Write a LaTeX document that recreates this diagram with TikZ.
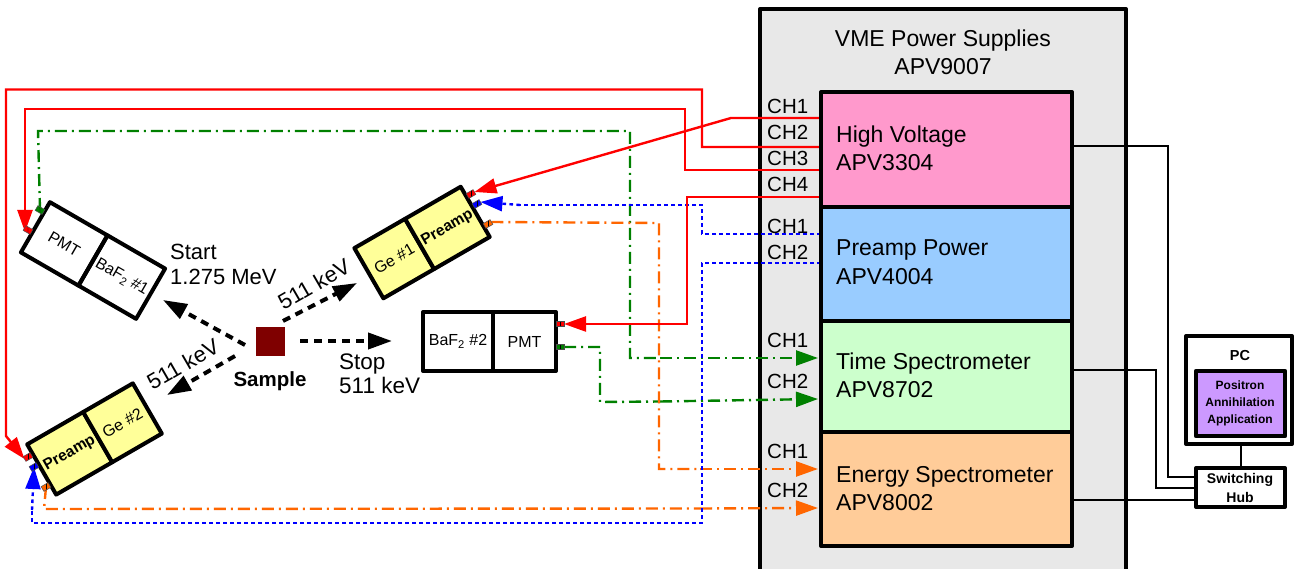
\documentclass[tikz,border=0pt]{standalone}
\usepackage{fontspec}
\setmainfont{Liberation Sans}
\usetikzlibrary{arrows.meta}
\pgfdeclarelayer{front}
\pgfsetlayers{main,front}
\tikzset{
  lab/.style={font=\fontsize{23}{25}\selectfont,inner sep=0pt,align=left},
  clab/.style={font=\fontsize{20.5}{24}\selectfont,inner sep=0pt,anchor=west},
  outerbox/.style={draw=black,line width=4pt,fill=#1,inner sep=0pt,outer sep=0pt,line join=round},
  cell/.style={draw=black,line width=4pt,inner sep=0pt,outer sep=0pt,line join=round,font=\fontsize{16}{19}\selectfont},
  stub/.style={draw=black!70,line width=.5pt,fill=#1,minimum width=8pt,minimum height=5.5pt,inner sep=0pt,outer sep=0pt,
     path picture={\draw[black,line width=.4pt] (path picture bounding box.north) -- (path picture bounding box.south);}},
  wiretip/.style={-{Triangle[length=22pt,width=15pt]}},
  hvwire/.style={draw=wred,line width=2.4pt,line join=miter,wiretip},
  pwrwire/.style={draw=wblue,line width=2.4pt,dash pattern=on 3.6pt off 3.4pt},
  sigwire/.style={draw=#1,line width=2.4pt,dash pattern=on 12pt off 5pt on 2pt off 5pt},
  thin wire/.style={draw=black,line width=2pt},
  gamma/.style={draw=black,line width=4pt,dash pattern=on 8pt off 6pt,-{Triangle[length=24pt,width=16pt]}},
}
\definecolor{wred}{HTML}{FF0000}
\definecolor{wblue}{HTML}{0000FF}
\definecolor{wgreen}{HTML}{008000}
\definecolor{worange}{HTML}{FF6600}
\definecolor{mpink}{HTML}{FF99CC}
\definecolor{mblue}{HTML}{99CCFF}
\definecolor{mgreen}{HTML}{CCFFCC}
\definecolor{morange}{HTML}{FFCC99}
\definecolor{myellow}{HTML}{FFFF99}
\definecolor{mgray}{HTML}{E8E8E8}
\definecolor{mpurple}{HTML}{CC99FF}
\definecolor{mred}{HTML}{7F0000}
\begin{document}
\begin{tikzpicture}[x=1pt,y=-1pt]
\path[use as bounding box] (0,0) rectangle (1294,569);
\clip (0,0) rectangle (1294,569);
\fill[white] (0,0) rectangle (1294,569);

% VME crate
\node[outerbox=mgray,minimum width=366pt,minimum height=572pt,anchor=north west] (vme) at (760,9) {};
\node[lab,align=center,anchor=center] (vmet) at (943,52.5) {VME Power Supplies\\[3.5pt]APV9007};

% anchor points on the modules
\coordinate (hv1) at (821,118);
\coordinate (hv2) at (821,147);
\coordinate (hv3) at (821,170);
\coordinate (hv4) at (821,197);
\coordinate (pw1) at (821,234);
\coordinate (pw2) at (821,263);
\coordinate (ts1) at (818,358);
\coordinate (ts2) at (818,399);
\coordinate (es1) at (818,469);
\coordinate (es2) at (818,508);

% detector stubs, on the front layer
\begin{pgfonlayer}{front}
\path
  node[stub=wred,rotate=-30] (s1r) at (28,230) {}
  node[stub=wgreen,rotate=-30] (s1g) at (40,210) {}
  node[stub=wred,rotate=30] (s2r) at (471,194) {}
  node[stub=wblue,rotate=30] (s2b) at (477,204) {}
  node[stub=worange,rotate=30] (s2o) at (488,224) {}
  node[stub=wred] (s3r) at (560,324) {}
  node[stub=wgreen] (s3g) at (560,347) {}
  node[stub=wred,rotate=30] (s4r) at (28,457) {}
  node[stub=wblue,rotate=30] (s4b) at (34,467) {}
  node[stub=worange,rotate=30] (s4o) at (46,487) {};
\end{pgfonlayer}

% wires
\draw[sigwire=wgreen] (s1g.center) -- (38,131) -- (630,131) -- (630,358) -- (660,358);
\draw[sigwire=wgreen,wiretip] (660,358) -- (ts1);
\draw[sigwire=wgreen] (s3g.east) -- (600,347) -- (600,402) -- (660,401.5);
\draw[sigwire=wgreen,wiretip] (660,401.5) -- (ts2);
\draw[sigwire=worange] (s2o.east) -- (659,223) -- (659,469) -- (700,469);
\draw[sigwire=worange,wiretip] (700,469) -- (es1);
\draw[sigwire=worange] (s4o.center) -- (44,509) -- (700,508.5);
\draw[sigwire=worange,wiretip] (700,508.5) -- (es2);
\draw[pwrwire] (pw1) -- (702,234) -- (702,205) -- (520,205);
\draw[pwrwire,wiretip] (520,205) -- (s2b.east);
\draw[pwrwire] (pw2) -- (702,263) -- (702,523) -- (32,523) -- (32,510);
\draw[pwrwire,wiretip] (32,510) -- (s4b.center);
\draw[hvwire] (hv1) -- (731,118) -- (s2r.east);
\draw[hvwire] (hv2) -- (702,147) -- (702,89.5) -- (6,89.5) -- (6,436) -- (s4r.west);
\draw[hvwire] (hv3) -- (685,170) -- (685,109) -- (25,109) -- (25,232);
\draw[hvwire] (hv4) -- (687,197) -- (687,324) -- (s3r.east);

% modules
\node[outerbox=mpink,minimum width=251pt,minimum height=115pt,anchor=north west] (hv) at (821,92) {};
\node[outerbox=mblue,minimum width=251pt,minimum height=114pt,anchor=north west] (pw) at (821,207) {};
\node[outerbox=mgreen,minimum width=251pt,minimum height=111pt,anchor=north west] (ts) at (821,321) {};
\node[outerbox=morange,minimum width=251pt,minimum height=114pt,anchor=north west] (es) at (821,432) {};
\node[lab,anchor=west] (hvt) at (836,148.5) {High Voltage\\[3.5pt]APV3304};
\node[lab,anchor=west] (pwt) at (836,262) {Preamp Power\\[3.5pt]APV4004};
\node[lab,anchor=west] (tst) at (836,375.5) {Time Spectrometer\\[3.5pt]APV8702};
\node[lab,anchor=west] (est) at (836,488.5) {Energy Spectrometer\\[3.5pt]APV8002};

% channel labels
\node[clab] (c1) at (767,106) {CH1};
\node[clab] (c2) at (767,132) {CH2};
\node[clab] (c3) at (767,158) {CH3};
\node[clab] (c4) at (767,184) {CH4};
\node[clab] (c5) at (767,226) {CH1};
\node[clab] (c6) at (767,252) {CH2};
\node[clab] (c7) at (767,340) {CH1};
\node[clab] (c8) at (767,381) {CH2};
\node[clab] (c9) at (767,451) {CH1};
\node[clab] (c10) at (767,490) {CH2};

% PC and hub
\node[outerbox=white,minimum width=106pt,minimum height=108pt,anchor=north west] (pc) at (1186,336) {};
\node[font=\bfseries\fontsize{14.5}{17}\selectfont,inner sep=0pt] (pct) at (1240,356) {PC};
\node[outerbox=mpurple,minimum width=89pt,minimum height=65pt,anchor=north west,line width=4.5pt] (app) at (1196,371) {};
\node[font=\bfseries\fontsize{12}{17}\selectfont,inner sep=0pt,align=center] (appt) at (1240,403) {Positron\\Annihilation\\Application};
\node[outerbox=white,minimum width=89pt,minimum height=39pt,anchor=north west] (hub) at (1196,468) {};
\node[font=\bfseries\fontsize{14}{19}\selectfont,inner sep=0pt,align=center] (hubt) at (1240,487.5) {Switching\\Hub};
\draw[thin wire] (hub.north |- pc.south) -- (hub.north);
\draw[thin wire] (1072,146) -- (1168,146) -- (1168,477) -- (1196,477);
\draw[thin wire] (1072,370) -- (1156,370) -- (1156,488) -- (1196,488);
\draw[thin wire] (1072,500) -- (1196,500);

% detectors
\node[cell,rotate=-30,minimum width=66.5pt,minimum height=58pt] (pmt1) at (64.2,243.9) {PMT};
\node[cell,rotate=-30,minimum width=66.5pt,minimum height=58pt] (baf1) at (121.8,277.1) {BaF\textsubscript{2} \#1};
\node[cell,fill=myellow,rotate=30,minimum width=58.5pt,minimum height=58pt] (ge1) at (394.2,258.6) {Ge \#1};
\node[cell,fill=myellow,rotate=30,minimum width=64.2pt,minimum height=58pt,font=\bfseries\fontsize{15.5}{18}\selectfont] (pre1) at (447.4,227.9) {Preamp};
\node[cell,minimum width=70pt,minimum height=59pt] (baf2) at (458,341.5) {BaF\textsubscript{2} \#2};
\node[cell,minimum width=63pt,minimum height=59pt] (pmt2) at (524.5,341.5) {PMT};
\node[cell,fill=myellow,rotate=30,minimum width=64.7pt,minimum height=58pt,font=\bfseries\fontsize{15.5}{18}\selectfont] (pre2) at (69.7,453.3) {Preamp};
\node[cell,fill=myellow,rotate=30,minimum width=57.3pt,minimum height=58pt] (ge2) at (122.5,422.8) {Ge \#2};

% sample and gamma rays
\node[fill=mred,minimum size=29pt,inner sep=0pt] (sample) at (270.5,341.5) {};
\node[font=\bfseries\fontsize{20.5}{22}\selectfont,inner sep=0pt] (samplet) at (270,381) {Sample};
\coordinate (g1) at (245,345);
\coordinate (g2) at (235,356);
\coordinate (g3) at (283,321);
\coordinate (g4) at (300,341);
\coordinate (gt1) at (163,300);
\coordinate (gt2) at (167,395);
\coordinate (gt3) at (357,283);
\coordinate (gt4) at (392,341);
\draw[gamma] (g1) -- (gt1);
\draw[gamma] (g2) -- (gt2);
\draw[gamma] (g3) -- (gt3);
\draw[gamma] (g4) -- (gt4);

\node[lab,anchor=west,font=\fontsize{22}{24.5}\selectfont] (startt) at (170,264.5) {Start\\1.275 MeV};
\node[lab,anchor=west,font=\fontsize{22.5}{24.5}\selectfont] (stopt) at (339,374) {Stop\\511 keV};
\node[lab,rotate=30,font=\fontsize{22}{24}\selectfont] (k1) at (314,284) {511 keV};
\node[lab,rotate=30,font=\fontsize{22}{24}\selectfont] (k2) at (183,364) {511 keV};
\end{tikzpicture}
\end{document}
